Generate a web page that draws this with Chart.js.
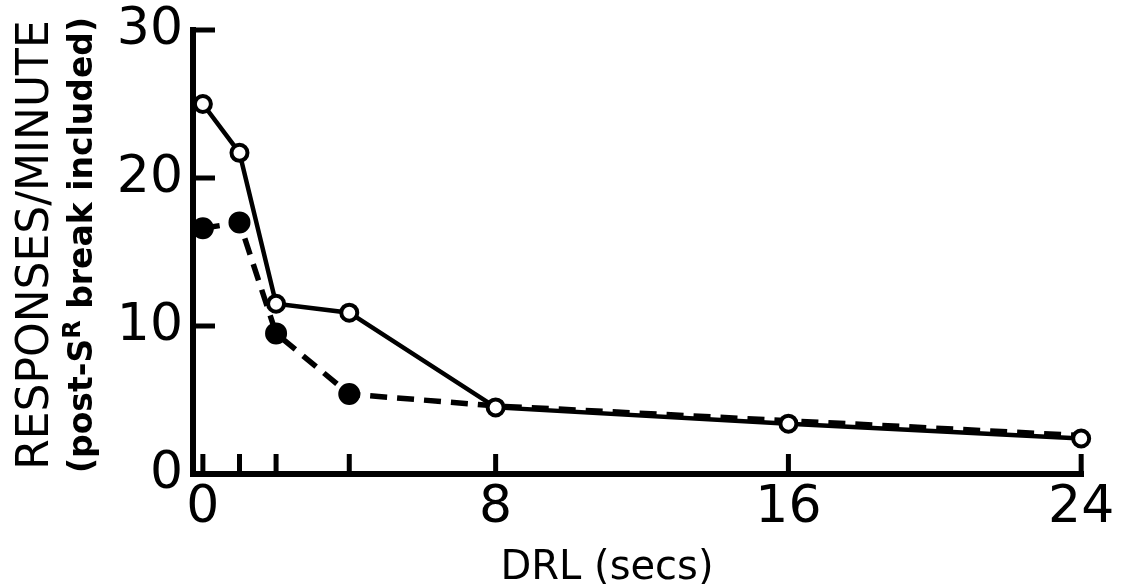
<!DOCTYPE html>
<html>
<head>
<meta charset="utf-8">
<script src="https://cdn.jsdelivr.net/npm/chart.js@4/dist/chart.umd.min.js"></script>
<style>
  body { margin: 0; background: #fff; }
  #wrap { width: 1123px; height: 584px; }
</style>
</head>
<body>
<div id="wrap"><canvas id="drlChart" width="1123" height="584"></canvas></div>
<script>
// DRL schedule values (secs)
const drlValues = [0, 1, 2, 4, 8, 16, 24];
// open circles, solid line
const openRates = [25.0, 21.7, 11.5, 10.9, 4.5, 3.4, 2.4];
// filled circles, dashed line
const filledRates = [16.6, 17.0, 9.5, 5.4, 4.6, 3.6, 2.6];
const yTickValues = [0, 10, 20, 30];
const xTickValues = [0, 8, 16, 24];
const xTickMarks = [0, 1, 2, 4, 8, 16, 24];
const yTickMarks = [10, 20, 30];

const FONT = 'DejaVu Sans';

// small inward tick marks + axis titles
const decorations = {
  id: 'decorations',
  afterDraw(chart) {
    const ctx = chart.ctx;
    const x = chart.scales.x;
    const y = chart.scales.y;
    const left = chart.chartArea.left;
    const bottom = chart.chartArea.bottom;

    ctx.save();
    ctx.strokeStyle = '#000';
    ctx.lineWidth = 5;
    ctx.lineCap = 'butt';
    yTickMarks.forEach(v => {
      const py = y.getPixelForValue(v);
      ctx.beginPath();
      ctx.moveTo(left, py);
      ctx.lineTo(left + 22, py);
      ctx.stroke();
    });
    xTickMarks.forEach(v => {
      const px = x.getPixelForValue(v);
      ctx.beginPath();
      ctx.moveTo(px, bottom);
      ctx.lineTo(px, bottom - 20);
      ctx.stroke();
    });

    ctx.fillStyle = '#000';
    // x title
    ctx.font = '40px "' + FONT + '"';
    ctx.textAlign = 'center';
    ctx.textBaseline = 'alphabetic';
    ctx.fillText('DRL (secs)', 607, 579);

    // y title, two rotated lines
    ctx.translate(0, 245);
    ctx.rotate(-Math.PI / 2);
    ctx.font = '44px "' + FONT + '"';
    ctx.fillText('RESPONSES/MINUTE', 0, 48);

    const big = 'bold 33px "' + FONT + '"';
    const small = 'bold 24px "' + FONT + '"';
    const a = '(post-S', r = 'R', b = ' break included)';
    ctx.font = big;
    const wa = ctx.measureText(a).width;
    const wb = ctx.measureText(b).width;
    ctx.font = small;
    const wr = ctx.measureText(r).width;
    let start = -(wa + wr + wb) / 2;
    ctx.textAlign = 'left';
    ctx.font = big;
    ctx.fillText(a, start, 92);
    ctx.font = small;
    ctx.fillText(r, start + wa, 80);
    ctx.font = big;
    ctx.fillText(b, start + wa + wr, 92);
    ctx.restore();
  }
};

new Chart(document.getElementById('drlChart'), {
  type: 'line',
  data: {
    datasets: [{
      label: 'open',
      data: drlValues.map((d, i) => ({ x: d, y: openRates[i] })),
      borderColor: '#000',
      borderWidth: 4.5,
      pointRadius: 8,
      pointBorderWidth: 4,
      pointBackgroundColor: '#fff',
      pointBorderColor: '#000',
      tension: 0,
      order: 0
    }, {
      label: 'filled',
      data: drlValues.map((d, i) => ({ x: d, y: filledRates[i] })),
      borderColor: '#000',
      borderWidth: 5.5,
      borderDash: [17, 10],
      pointRadius: [10, 10, 10, 10, 0, 0, 0],
      pointBorderWidth: 2,
      pointBackgroundColor: '#000',
      pointBorderColor: '#000',
      tension: 0,
      order: 1
    }]
  },
  options: {
    responsive: false,
    animation: false,
    clip: false,
    layout: { padding: { top: 30, right: 40, left: 0, bottom: 0 } },
    plugins: {
      legend: { display: false },
      tooltip: { enabled: false }
    },
    scales: {
      x: {
        type: 'linear',
        min: -0.27,
        max: 24.05,
        afterBuildTicks: scale => { scale.ticks = xTickValues.map(v => ({ value: v })); },
        afterFit: scale => {
          scale.height = 110;
          scale.paddingLeft = 0;
          scale.paddingRight = 0;
        },
        grid: { drawOnChartArea: false, drawTicks: false },
        border: { display: true, width: 6, color: '#000' },
        ticks: {
          color: '#000',
          padding: 8,
          maxRotation: 0,
          font: { family: FONT, size: 52, lineHeight: 1 }
        }
      },
      y: {
        min: 0,
        max: 30,
        afterBuildTicks: scale => { scale.ticks = yTickValues.map(v => ({ value: v })); },
        afterFit: scale => {
          scale.width = 193;
          scale.paddingTop = 0;
          scale.paddingBottom = 0;
        },
        grid: { drawOnChartArea: false, drawTicks: false },
        border: { display: true, width: 6, color: '#000' },
        ticks: {
          color: '#000',
          padding: 10,
          font: { family: FONT, size: 52, lineHeight: 1 }
        }
      }
    }
  },
  plugins: [decorations]
});
</script>
</body>
</html>
